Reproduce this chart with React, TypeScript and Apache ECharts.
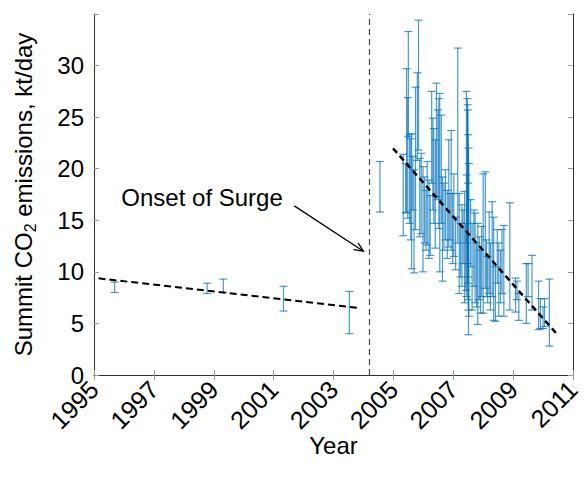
import React, { useEffect, useRef } from "react";
import * as echarts from "echarts";

const FONT = '"Liberation Sans", Arial, Helvetica, sans-serif';

// Pre-surge error bars
const preYears = [1995.69, 1998.78, 1999.32, 2001.33, 2003.53];
const preHigh = [9.0, 8.9, 9.3, 8.6, 8.1];
const preLow = [8.0, 7.9, 8.0, 6.2, 4.0];

// Post-surge error bars
const postYears = [
  2004.55, 2005.33, 2005.41, 2005.44, 2005.48, 2005.5, 2005.54, 2005.58, 2005.61, 2005.65,
  2005.69, 2005.74, 2005.8, 2005.84, 2005.88, 2005.93, 2005.99, 2006.04, 2006.09, 2006.13,
  2006.19, 2006.23, 2006.28, 2006.32, 2006.35, 2006.4, 2006.44, 2006.49, 2006.52, 2006.55,
  2006.6, 2006.64, 2006.69, 2006.74, 2006.8, 2006.85, 2006.89, 2006.93, 2006.98, 2007.02,
  2007.08, 2007.15, 2007.2, 2007.24, 2007.29, 2007.33, 2007.38, 2007.42, 2007.44, 2007.45,
  2007.47, 2007.48, 2007.49, 2007.5, 2007.51, 2007.52, 2007.49, 2007.58, 2007.63, 2007.69,
  2007.73, 2007.78, 2007.82, 2007.87, 2007.91, 2007.95, 2008.0, 2008.07, 2008.11, 2008.15,
  2008.2, 2008.24, 2008.3, 2008.35, 2008.41, 2008.47, 2008.52, 2008.58, 2008.63, 2008.69,
  2008.89, 2009.08, 2009.13, 2009.19, 2009.44, 2009.5, 2009.63, 2009.85, 2009.91, 2010.0,
  2010.05, 2010.21,
];
const postHigh = [
  20.7, 21.4, 20.5, 29.7, 26.9, 33.3, 23.3, 22.9, 23.4, 21.2,
  19.9, 27.9, 29.3, 34.4, 21.0, 21.5, 20.2, 19.2, 17.9, 20.7,
  18.9, 17.4, 27.5, 24.9, 23.9, 22.8, 28.3, 25.7, 26.8, 27.3,
  25.2, 19.2, 18.6, 19.9, 17.9, 22.8, 17.6, 23.7, 17.6, 19.5,
  15.3, 31.7, 17.6, 14.7, 16.5, 16.0, 17.8, 14.7, 27.5, 19.4,
  26.8, 26.2, 25.7, 23.3, 22.0, 20.5, 18.6, 17.0, 14.7, 16.0,
  15.7, 12.8, 14.7, 13.4, 12.1, 14.4, 19.5, 19.7, 13.1, 11.5,
  15.8, 12.8, 16.8, 15.3, 10.5, 14.1, 12.8, 12.1, 14.1, 14.5,
  16.7, 9.4, 9.1, 7.9, 10.8, 10.8, 11.6, 9.1, 7.4, 6.6,
  7.4, 9.3,
];
const postLow = [
  15.8, 13.5, 15.7, 15.8, 15.2, 23.1, 14.7, 13.1, 10.3, 16.0,
  9.9, 14.1, 20.8, 21.8, 13.4, 13.7, 10.0, 12.8, 12.1, 12.6,
  11.3, 11.6, 18.6, 16.0, 14.7, 12.3, 17.3, 17.0, 14.2, 10.0,
  14.7, 9.1, 12.1, 13.1, 11.3, 12.4, 13.1, 12.1, 10.8, 11.5,
  10.2, 12.8, 7.9, 9.5, 8.6, 10.8, 7.0, 8.2, 12.8, 7.6,
  10.8, 8.9, 7.3, 6.3, 3.9, 5.7, 9.5, 10.5, 6.3, 8.6,
  7.0, 6.6, 4.9, 7.3, 6.0, 7.6, 6.0, 8.4, 7.6, 7.0,
  7.9, 6.3, 7.6, 5.3, 5.2, 8.9, 5.7, 7.0, 7.9, 5.7,
  6.3, 6.1, 7.3, 5.3, 5.0, 7.6, 6.3, 4.4, 4.5, 4.5,
  4.7, 2.8,
];

// Trend lines
const preTrend = [
  [1995.15, 9.37],
  [2003.8, 6.52],
];
const postTrend = [
  [2004.99, 21.97],
  [2010.44, 4.04],
];

const onsetYear = 2004.2;
const annotationText = "Onset of Surge";
const annotationPos = [1998.61, 17.25];
const arrowFromTo = [2001.69, 16.4, 2004.0, 12.0];

const xTicks = { min: 1995, max: 2011, interval: 2 };
const yTicks = { min: 0, max: 35, interval: 5 };

export default function App() {
  const ref = useRef<HTMLDivElement>(null);

  useEffect(() => {
    if (!ref.current) return;
    const chart = echarts.init(ref.current, null, { renderer: "svg" });

    const errData = [
      ...preYears.map((x, i) => [x, preLow[i], preHigh[i]]),
      ...postYears.map((x, i) => [x, postLow[i], postHigh[i]]),
    ];

    const barStroke = "rgba(0,114,189,0.72)";
    const textColor = "#000";
    const axisColor = "#333";
    const tickColor = "#999";

    const option: any = {
      animation: false,
      grid: { left: 92, right: 11, top: 14, bottom: 105, containLabel: false },
      xAxis: [
        {
          type: "value",
          min: xTicks.min,
          max: xTicks.max,
          interval: xTicks.interval,
          position: "bottom",
          name: "Year",
          nameLocation: "middle",
          nameGap: 58,
          nameMoveOverlap: false,
          nameTextStyle: { fontSize: 24, fontFamily: FONT, color: textColor },
          axisLine: { show: true, lineStyle: { color: axisColor, width: 1 } },
          axisTick: { show: true, inside: true, length: 5, lineStyle: { color: tickColor } },
          axisLabel: {
            rotate: 45,
            fontSize: 25,
            fontFamily: FONT,
            color: textColor,
            margin: 10,
            formatter: (v: number) => String(v),
          },
          splitLine: { show: false },
        },
        {
          type: "value",
          min: xTicks.min,
          max: xTicks.max,
          interval: xTicks.interval,
          position: "top",
          axisLine: { show: true, lineStyle: { color: axisColor, width: 1 } },
          axisTick: { show: true, inside: true, length: 5, lineStyle: { color: tickColor } },
          axisLabel: { show: false },
          splitLine: { show: false },
        },
      ],
      yAxis: [
        {
          type: "value",
          min: yTicks.min,
          max: yTicks.max,
          interval: yTicks.interval,
          position: "left",
          name: "Summit CO{sub|2} emissions, kt/day",
          nameLocation: "middle",
          nameGap: 56,
          nameRotate: 90,
          nameMoveOverlap: false,
          nameTextStyle: {
            fontSize: 24,
            fontFamily: FONT,
            color: textColor,
            lineHeight: 30,
            rich: {
              sub: { fontSize: 16, fontFamily: FONT, color: textColor, verticalAlign: "bottom", lineHeight: 18 },
            },
          },
          axisLine: { show: true, lineStyle: { color: axisColor, width: 1 } },
          axisTick: { show: true, inside: true, length: 5, lineStyle: { color: tickColor } },
          axisLabel: {
            fontSize: 24,
            fontFamily: FONT,
            color: textColor,
            margin: 10,
            formatter: (v: number) => (v === yTicks.max ? "" : String(v)),
          },
          splitLine: { show: false },
        },
        {
          type: "value",
          min: yTicks.min,
          max: yTicks.max,
          interval: yTicks.interval,
          position: "right",
          axisLine: { show: true, lineStyle: { color: axisColor, width: 1 } },
          axisTick: { show: true, inside: true, length: 5, lineStyle: { color: tickColor } },
          axisLabel: { show: false },
          splitLine: { show: false },
        },
      ],
      series: [
        {
          type: "line",
          data: preTrend,
          showSymbol: false,
          symbol: "none",
          silent: true,
          lineStyle: { color: "#000", width: 2, type: [7, 4] },
          z: 5,
          markLine: {
            silent: true,
            symbol: ["none", "none"],
            label: { show: false },
            lineStyle: { color: "#444", width: 1.2, type: [6, 4] },
            data: [{ xAxis: onsetYear }],
          },
        },
        {
          type: "line",
          data: postTrend,
          showSymbol: false,
          symbol: "none",
          silent: true,
          lineStyle: { color: "#000", width: 2.4, type: [6, 4] },
          z: 5,
        },
        {
          type: "custom",
          silent: true,
          data: errData,
          encode: { x: 0, y: [1, 2] },
          z: 3,
          renderItem: (params: any, api: any) => {
            const x = api.value(0);
            const lo = api.value(1);
            const hi = api.value(2);
            const pHi = api.coord([x, hi]);
            const pLo = api.coord([x, lo]);
            const w = 4;
            const style = { stroke: barStroke, lineWidth: 1.2, fill: null };
            return {
              type: "group",
              children: [
                { type: "line", shape: { x1: pHi[0], y1: pHi[1], x2: pLo[0], y2: pLo[1] }, style },
                { type: "line", shape: { x1: pHi[0] - w, y1: pHi[1], x2: pHi[0] + w, y2: pHi[1] }, style },
                { type: "line", shape: { x1: pLo[0] - w, y1: pLo[1], x2: pLo[0] + w, y2: pLo[1] }, style },
              ],
            };
          },
        },
        {
          type: "custom",
          silent: true,
          data: [arrowFromTo],
          encode: { x: [0, 2], y: [1, 3] },
          z: 6,
          renderItem: (params: any, api: any) => {
            const a = api.coord([api.value(0), api.value(1)]);
            const b = api.coord([api.value(2), api.value(3)]);
            const ang = Math.atan2(b[1] - a[1], b[0] - a[0]);
            const L = 10;
            const spread = 0.42;
            const h1 = [b[0] - L * Math.cos(ang - spread), b[1] - L * Math.sin(ang - spread)];
            const h2 = [b[0] - L * Math.cos(ang + spread), b[1] - L * Math.sin(ang + spread)];
            const style = { stroke: "#000", lineWidth: 1.3, fill: null };
            return {
              type: "group",
              children: [
                { type: "line", shape: { x1: a[0], y1: a[1], x2: b[0], y2: b[1] }, style },
                { type: "polyline", shape: { points: [h1, b, h2] }, style },
              ],
            };
          },
        },
        {
          type: "custom",
          silent: true,
          data: [annotationPos],
          encode: { x: 0, y: 1 },
          z: 7,
          renderItem: (params: any, api: any) => {
            const p = api.coord([api.value(0), api.value(1)]);
            return {
              type: "text",
              x: p[0],
              y: p[1],
              style: {
                text: annotationText,
                fill: "#000",
                font: `24px ${FONT}`,
                align: "center",
                verticalAlign: "middle",
              },
            };
          },
        },
      ],
    };

    chart.setOption(option);
    return () => chart.dispose();
  }, []);

  return <div ref={ref} style={{ width: 584, height: 480, position: "absolute", left: 0, top: 0 }} />;
}
